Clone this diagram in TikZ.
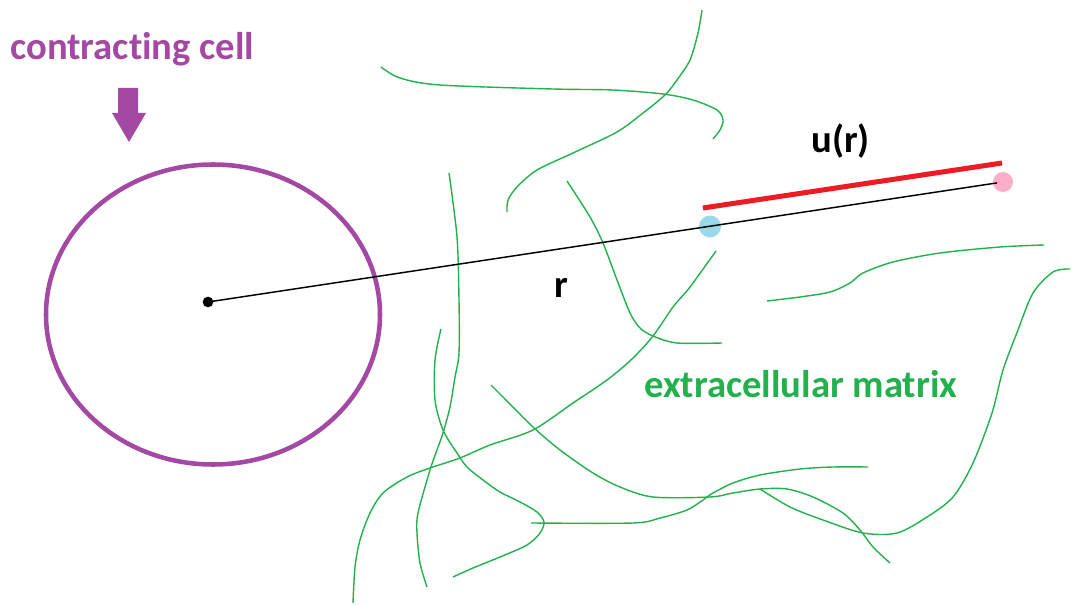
\documentclass[tikz,border=0pt]{standalone}
\usepackage{fontspec}
\setmainfont{Carlito}[Ligatures=NoCommon]
\usetikzlibrary{shapes.geometric}
\definecolor{cellpurple}{HTML}{A349A4}
\definecolor{fibergreen}{HTML}{22B14C}
\definecolor{disred}{HTML}{ED1C24}
\definecolor{markblue}{HTML}{99D9EA}
\definecolor{markpink}{HTML}{FFAEC9}
\begin{document}
\begin{tikzpicture}[x=0.75pt,y=-0.75pt,
  fiber/.style={draw=fibergreen, line width=1.05pt, line join=round},
  txt/.style={font=\fontsize{29}{35}\selectfont\bfseries, inner sep=0pt, anchor=base west},
  cellwall/.style={draw=cellpurple, line width=3.4pt, ellipse, inner sep=0pt},
  marker/.style={circle, inner sep=0pt, minimum size=16.5pt},
  radius line/.style={draw=black, line width=1.1pt},
  shift line/.style={draw=disred, line width=3.75pt}]
\useasboundingbox[fill=white] (0,0) rectangle (1072,606);

% extracellular matrix fibres
\draw[fiber] plot[smooth, tension=0.5] coordinates {(381,67) (400,78) (440,85) (553,89) (613,90) (663,94) (693,100) (717,110) (723,120) (720,130) (713,139)};
\draw[fiber] plot[smooth, tension=0.5] coordinates {(702,10) (698,33) (690,60) (677,80) (665,95) (643,113) (617,132) (573,153) (537,170) (517,187) (508,200) (507,212)};
\draw[fiber] plot[smooth, tension=0.5] coordinates {(449,173) (457,237) (459,300) (459,353) (455,377) (450,407) (443,433) (437,450) (430,470) (418,513) (417,533) (420,563) (427,587)};
\draw[fiber] plot[smooth, tension=0.5] coordinates {(441,329) (435,360) (435,400) (443,430) (457,453) (467,467) (483,480) (500,492) (520,502) (537,512) (544,522) (540,533) (527,545) (500,557) (473,568) (453,577)};
\draw[fiber] plot[smooth, tension=0.5] coordinates {(716,251) (690,287) (673,307) (653,336) (632,359) (607,380) (573,403) (533,430) (490,445) (460,458) (430,468) (407,477) (383,493) (370,513) (360,540) (355,567) (353,603)};
\draw[fiber] plot[smooth, tension=0.5] coordinates {(567,181) (590,217) (603,243) (617,280) (630,313) (640,328) (653,336) (677,343) (722,343)};
\draw[fiber] plot[smooth, tension=0.5] coordinates {(491,385) (503,397) (533,427) (560,450) (593,473) (620,487) (653,497) (710,497) (733,493) (760,489) (787,489) (813,497) (843,513) (860,530) (873,547) (890,563)};
\draw[fiber] plot[smooth, tension=0.5] coordinates {(1070,269) (1053,272) (1033,293) (1018,330) (1003,370) (992,413) (973,463) (953,497) (927,517) (897,533) (863,533) (823,520) (790,507) (760,489)};
\draw[fiber] plot[smooth, tension=0.5] coordinates {(531,523) (633,523) (660,518) (687,510) (703,500) (713,493) (733,483) (760,475) (800,469) (833,467) (868,467)};
\draw[fiber] plot[smooth, tension=0.5] coordinates {(767,301) (800,297) (830,292) (850,283) (863,273) (893,262) (940,253) (1000,247) (1044,245)};

% the cell and its pointer
\node[cellwall, minimum width=250.5pt, minimum height=225pt] (cell) at (213,314.5) {};
\fill[cellpurple] (118,88) -- (138,88) -- (138,113) -- (146,113) -- (129,142) -- (112,113) -- (118,113) -- cycle;
\node[txt, text=cellpurple] (celltext) at (10,60) {contracting cell};

% displacement markers
\node[marker, fill=markblue] (start) at (710,226.5) {};
\node[marker, fill=markpink, minimum size=15pt] (end) at (1003,182) {};
\node[circle, fill=black, inner sep=0pt, minimum size=8pt] (nucleus) at (208,302) {};
\draw[radius line, shorten >=4.5pt] (nucleus.center) -- (end.center);

% displacement bar
\coordinate (ua) at (703,208);
\coordinate (ub) at (1002,163);
\draw[shift line] (ua) -- (ub);

% labels
\node[txt] (ulabel) at (811,153) {u(r)};
\node[txt] (rlabel) at (554,297) {r};
\node[txt, text=fibergreen] (ecm) at (644,397) {extracellular matrix};
\end{tikzpicture}
\end{document}
